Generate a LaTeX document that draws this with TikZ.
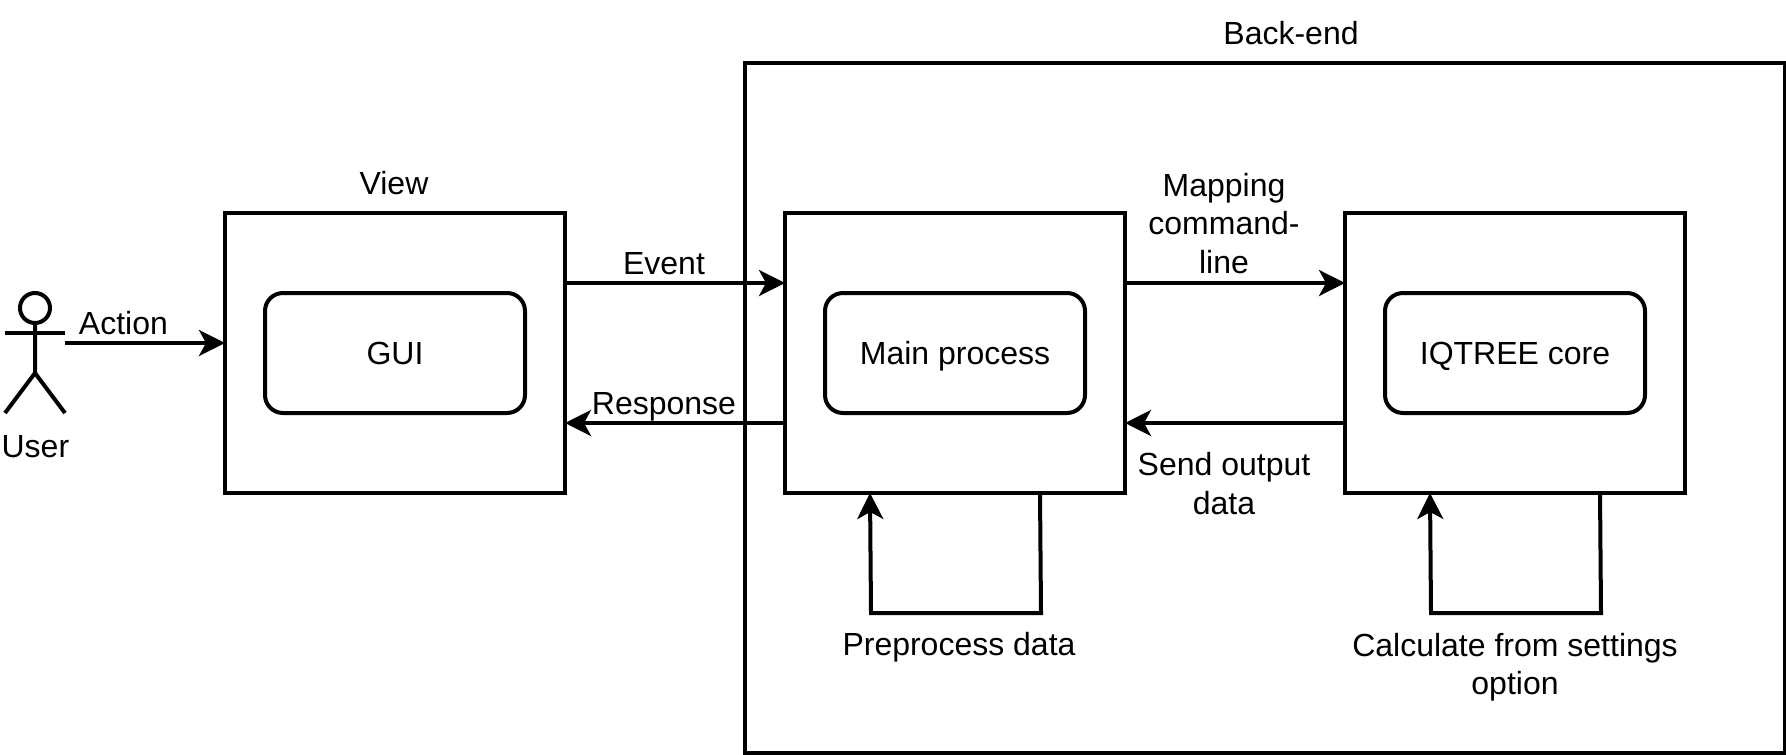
\documentclass[tikz,border=0pt]{standalone}
\usepackage{fontspec}
\setmainfont{Liberation Sans}
\usetikzlibrary{arrows.meta,calc}
\begin{document}
\begin{tikzpicture}[x = 1pt, y = -1pt, line join = miter, line width = 2pt,
		>={Stealth[length=13pt, width=13pt, inset=3.5pt]},
		every node/.style = {font=\fontsize{16}{19.2}\selectfont, align=center, inner sep=0pt, outer sep=0pt},
		outerbox/.style = {draw, minimum width=170pt, minimum height=140pt},
		innerbox/.style = {draw, rounded corners=9pt, minimum width=130pt, minimum height=60pt, text height=11.5pt, text depth=0pt}]
	\useasboundingbox (0,0) rectangle (893,377);
	%Khung back-end
	\node[draw, minimum width=520pt, minimum height=345pt] (backend) at (632.5,204) {};
	\node (backendlabel) at (645.5,16.5) {Back-end};
	%Các khối
	\node[outerbox] (viewbox) at (197.5,176.5) {};
	\node[outerbox] (mainbox) at (477.5,176.5) {};
	\node[outerbox] (corebox) at (757.5,176.5) {};
	\node[innerbox] (gui) at (197.5,176.5) {GUI};
	\node[innerbox] (mainproc) at (477.5,176.5) {Main process};
	\node[innerbox] (iqtree) at (757.5,176.5) {IQTREE core};
	\node (viewlabel) at (197,91.7) {View};
	%Người dùng
	\coordinate (user) at (17.5,146.5);
	\coordinate (userhand) at (32.5,171.5);
	\draw (user) ++(0,7.5) circle (7.5pt);
	\draw (user) ++(0,15) -- ++(0,25) -- ++(-15,20);
	\draw (user) ++(0,40) -- ++(15,20);
	\draw (user) ++(-15,20) -- ++(30,0);
	\node (userlabel) at (17.7,223.1) {User};
	%Các mũi tên
	\draw[->] (userhand) -- (userhand -| viewbox.west);
	\node (action) at (61.7,161.7) {Action};
	\foreach \s/\t in {viewbox/mainbox, mainbox/corebox}
	\draw[->] (\s.east |- 0,141.5) -- (\t.west |- 0,141.5);
	\foreach \s/\t in {mainbox/viewbox, corebox/mainbox}
	\draw[->] (\s.west |- 0,211.5) -- (\t.east |- 0,211.5);
	\node (event) at (332,132) {Event};
	\node (response) at (332,203.5) {Response};
	\node (mapping) at (612,111.7) {Mapping\\command-\\line};
	\node (sendoutput) at (612,241.8) {Send output\\data};
	%Các vòng lặp
	\foreach \b in {mainbox, corebox}{
		\coordinate (\b out) at ($(\b.south west)!.75!(\b.south east)$);
		\coordinate (\b in) at ($(\b.south west)!.25!(\b.south east)$);
		\draw[->] (\b out) -- ++(.5,60) -- ($(\b in)+(.5,60)$) -- (\b in);
	}
	\node (preprocess) at (479.5,323.5) {Preprocess data};
	\node (calculate) at (757.5,333.5) {Calculate from settings\\option};
\end{tikzpicture}
\end{document}
